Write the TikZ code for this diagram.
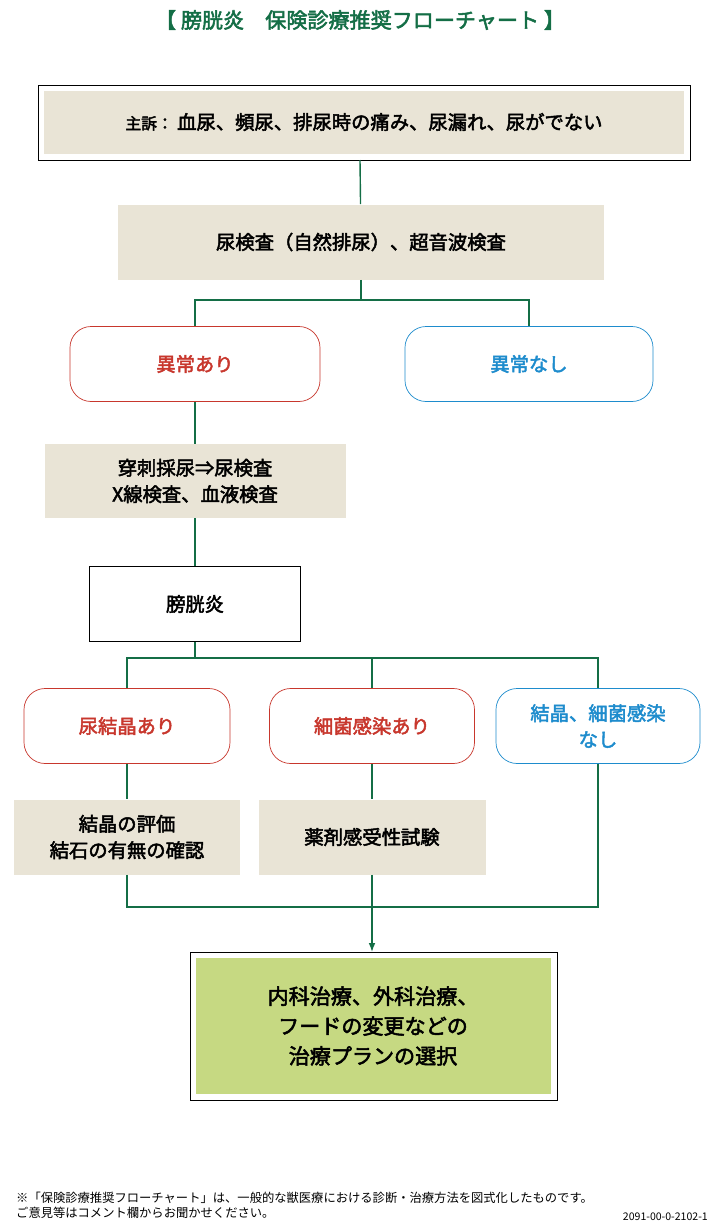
\documentclass[tikz,border=0pt]{standalone}
\usepackage{fontspec}
\setmainfont{Noto Sans CJK JP}[AutoFakeBold=2.5]
\usetikzlibrary{arrows.meta,positioning}
\definecolor{lineg}{RGB}{20,110,70}
\definecolor{beige}{RGB}{233,228,214}
\definecolor{redt}{RGB}{200,55,45}
\definecolor{bluet}{RGB}{30,140,205}
\definecolor{plan}{RGB}{198,217,130}
\begin{document}
\begin{tikzpicture}[
    x=0.02cm, y=-0.02cm,
    font=\fontsize{11}{15}\selectfont\bfseries,
    exam/.style={fill=beige, align=center, inner sep=0pt},
    res/.style={draw, rounded corners=12pt, fill=white, align=center, inner sep=0pt, thin},
    ok/.style={res, draw=bluet, text=bluet},
    ng/.style={res, draw=redt, text=redt},
    conn/.style={draw=lineg, line width=0.8pt}
  ]
    \useasboundingbox (0,0) rectangle (720,1231);
    \node[text=lineg, font=\fontsize{12}{14}\selectfont\bfseries] (title) at (360,20) {【\ 膀胱炎\quad 保険診療推奨フローチャート\ 】};
    % chief complaint
    \draw (38,85) rectangle (690,160);
    \node[exam, minimum width=640*0.02cm, minimum height=63*0.02cm] (CC) at (364,122) {{\fontsize{9}{11}\selectfont 主訴：}\ 血尿、頻尿、排尿時の痛み、尿漏れ、尿がでない};
    \node[exam, minimum width=486*0.02cm, minimum height=75*0.02cm] (T1) at (361,242) {尿検査（自然排尿）、超音波検査};
    \node[ng, minimum width=250*0.02cm, minimum height=75*0.02cm] (AB) at (195,364) {異常あり};
    \node[ok, minimum width=248*0.02cm, minimum height=75*0.02cm] (NA) at (529,364) {異常なし};
    \node[exam, minimum width=301*0.02cm, minimum height=74*0.02cm] (T2) at (195,481) {穿刺採尿⇒尿検査\\X線検査、血液検査};
    \node[draw, fill=white, minimum width=211*0.02cm, minimum height=75*0.02cm] (DX) at (195,604) {膀胱炎};
    \node[ng, minimum width=206*0.02cm, minimum height=75*0.02cm] (CR) at (127,726) {尿結晶あり};
    \node[ng, minimum width=205*0.02cm, minimum height=75*0.02cm] (BI) at (372,726) {細菌感染あり};
    \node[ok, minimum width=204*0.02cm, minimum height=75*0.02cm] (NO) at (598,726) {結晶、細菌感染\\なし};
    \node[exam, minimum width=226*0.02cm, minimum height=75*0.02cm] (T3) at (127,837) {結晶の評価\\結石の有無の確認};
    \node[exam, minimum width=227*0.02cm, minimum height=75*0.02cm] (T4) at (372,837) {薬剤感受性試験};
    \draw (190,952) rectangle (557,1100);
    \node[fill=plan, align=center, minimum width=355*0.02cm, minimum height=136*0.02cm, font=\fontsize{12}{17}\selectfont\bfseries] (TP) at (373,1026) {内科治療、外科治療、\\フードの変更などの\\治療プランの選択};
    \coordinate (J1) at (361,300);
    \coordinate (J2) at (195,658);
    \coordinate (J3) at (372,907);

    \draw[conn] (360,160) -- (T1);
    \draw[conn] (T1) -- (J1) -| (AB);
    \draw[conn] (J1) -| (NA);
    \draw[conn] (AB) -- (T2);
    \draw[conn] (T2) -- (DX);
    \draw[conn] (DX) -- (J2) -| (CR);
    \draw[conn] (J2) -| (BI);
    \draw[conn] (J2) -| (NO);
    \draw[conn] (CR) -- (T3);
    \draw[conn] (BI) -- (T4);
    \draw[conn] (T3) |- (J3);
    \draw[conn] (NO) |- (J3);
    \draw[conn, -{Latex[length=5pt]}] (T4) -- (372,952);

    \node[anchor=west, align=left, font=\fontsize{7}{8.5}\selectfont] (note) at (10,1205) {※「保険診療推奨フローチャート」は、一般的な獣医療における診断・治療方法を図式化したものです。\\ご意見等はコメント欄からお聞かせください。};
    \node[anchor=east, font=\fontsize{6}{7}\selectfont] (code) at (714,1217) {2091-00-0-2102-1};
\end{tikzpicture}
\end{document}
